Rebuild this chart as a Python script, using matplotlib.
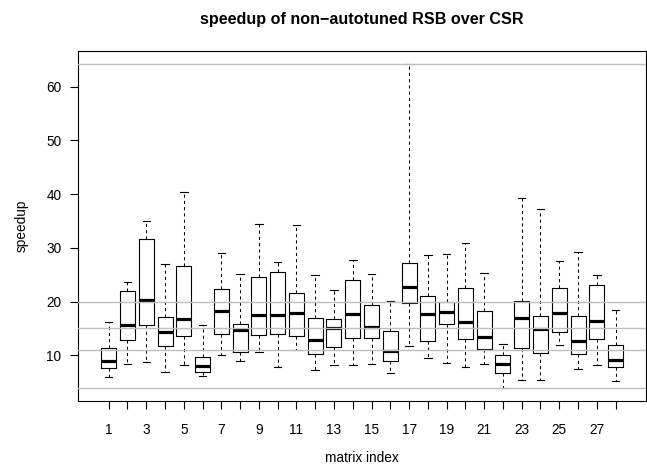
import matplotlib
matplotlib.use("Agg")
import matplotlib.pyplot as plt

plt.rcParams['font.family'] = ['Liberation Sans', 'DejaVu Sans']

matrix_index = list(range(1, 29))
whisker_high = [16.26, 23.7, 35.07, 27.0, 40.47, 15.7, 29.1, 25.2, 34.5, 27.3,
                34.3, 25.0, 22.2, 27.8, 25.1, 20.05, 64.2, 28.6, 28.8, 31.0,
                25.3, 12.05, 39.3, 37.2, 27.5, 29.3, 24.9, 18.44]
q3 = [11.3, 21.97, 31.66, 17.2, 26.6, 9.68, 22.35, 15.83, 24.5, 25.57,
      21.55, 16.95, 16.7, 24.0, 19.3, 14.47, 27.2, 21.1, 20.0, 22.48,
      18.2, 10.0, 20.05, 17.3, 22.6, 17.37, 23.15, 11.9]
median = [8.88, 15.58, 20.24, 14.34, 16.8, 8.0, 18.3, 14.7, 17.56, 17.5,
          17.88, 12.8, 15.08, 17.75, 15.2, 10.8, 22.66, 17.6, 18.1, 16.2,
          13.4, 8.38, 16.9, 14.9, 17.8, 12.72, 16.44, 9.18]
q1 = [7.69, 12.8, 15.7, 11.7, 13.66, 6.95, 14.0, 10.55, 13.7, 13.9,
      13.6, 10.3, 11.49, 13.16, 13.16, 8.94, 19.8, 12.6, 15.83, 13.0,
      11.1, 6.7, 11.3, 10.37, 14.34, 10.24, 12.98, 7.88]
whisker_low = [5.9, 8.32, 8.7, 6.95, 8.14, 6.09, 10.0, 8.94, 10.6, 7.88,
               10.99, 7.2, 8.19, 8.19, 8.32, 6.76, 11.8, 9.55, 8.63, 7.77,
               8.38, 3.9, 5.34, 5.46, 11.9, 7.39, 8.14, 5.21]
ref_lines = [64.2, 20.0, 15.0, 11.0, 3.9]
y_ticks = [10, 20, 30, 40, 50, 60]

W, H = 647, 468
fig = plt.figure(figsize=(W / 100, H / 100), dpi=100)
ax = fig.add_axes([78.3 / W, (H - 401) / H, (646 - 78.3) / W, (401 - 51.3) / H])

stats = []
for i in range(len(matrix_index)):
    stats.append(dict(whislo=whisker_low[i], q1=q1[i], med=median[i],
                      q3=q3[i], whishi=whisker_high[i], fliers=[]))

ax.bxp(stats, positions=matrix_index, widths=0.8, showfliers=False,
       boxprops=dict(color='black', linewidth=0.8),
       medianprops=dict(color='black', linewidth=2.3, solid_capstyle='butt'),
       whiskerprops=dict(color='black', linewidth=0.75, linestyle=(0, (3, 3))),
       capprops=dict(color='black', linewidth=0.8),
       capwidths=0.4)

for v in ref_lines:
    ax.axhline(v, color='#BEBEBE', linewidth=1.0, zorder=3)

ax.set_xlim(-0.62, 29.62)
ax.set_ylim(1.49, 66.6)
ax.set_xticks(matrix_index)
ax.set_xticklabels([str(m) if m % 2 == 1 else '' for m in matrix_index])
ax.set_yticks(y_ticks)
ax.set_yticklabels([str(t) for t in y_ticks])
ax.tick_params(axis='both', direction='out', length=6.1, width=0.8,
               labelsize=9.8, colors='black')
ax.tick_params(axis='x', pad=9.5)
ax.tick_params(axis='y', pad=6)
for s in ax.spines.values():
    s.set_linewidth(0.8)

ax.set_xlabel('matrix index', fontsize=9.8, labelpad=10)
ax.set_ylabel('speedup', fontsize=9.8, labelpad=13)
fig.text((78.3 + 646) / 2 / W, 1 - 19.5 / H,
         'speedup of non\u2212autotuned RSB over CSR',
         ha='center', va='center', fontsize=11.6, fontweight='bold')

fig.savefig('out.png', dpi=100)
